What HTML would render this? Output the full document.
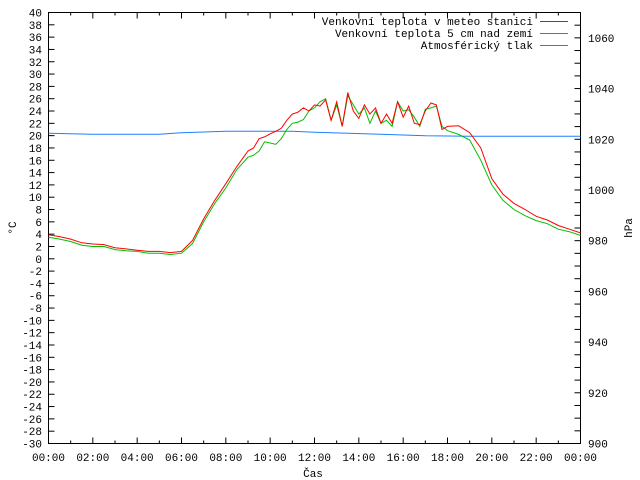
<!DOCTYPE html>
<html><head><meta charset="utf-8"><style>
html,body{margin:0;padding:0;background:#fff}
svg{display:block;font-family:"Liberation Mono",monospace;font-size:11px}
</style></head><body>
<svg id="chart" width="640" height="480" viewBox="0 0 640 480" xmlns="http://www.w3.org/2000/svg">
<rect width="640" height="480" fill="#fff"/>
<g id="axes"></g>
<g id="series"></g>
<text x="0" y="0" transform="translate(16,228) rotate(-90)" text-anchor="middle">°C</text>
<text x="0" y="0" transform="translate(632,228) rotate(-90)" text-anchor="middle">hPa</text>
<text x="313" y="477" text-anchor="middle">Čas</text>
<g>
<text x="533" y="25" text-anchor="end">Venkovní teplota v meteo stanici</text>
<line x1="540" y1="21.5" x2="568" y2="21.5" stroke="#ff0000"/>
<text x="533" y="37" text-anchor="end">Venkovní teplota 5 cm nad zemí</text>
<line x1="540" y1="33.5" x2="568" y2="33.5" stroke="#00c000"/>
<text x="533" y="49" text-anchor="end">Atmosférický tlak</text>
<line x1="540" y1="45.5" x2="568" y2="45.5" stroke="#1a80ff"/>
</g>
</svg>
<script>
const tempTimes = [0,0.5,1,1.5,2,2.5,3,3.5,4,4.5,5,5.5,6,6.5,7,7.5,8,8.5,9,9.25,9.5,9.75,10,10.25,10.5,10.75,11,11.25,11.5,11.75,12,12.25,12.5,12.75,13,13.25,13.5,13.75,14,14.25,14.5,14.75,15,15.25,15.5,15.75,16,16.25,16.5,16.75,17,17.25,17.5,17.75,18,18.5,19,19.5,20,20.5,21,21.5,22,22.5,23,23.5,24];
const airTemp = [3.9,3.6,3.2,2.6,2.4,2.3,1.8,1.6,1.4,1.2,1.2,1.0,1.2,3.0,6.5,9.5,12.2,15,17.5,18,19.5,19.8,20.3,20.7,21.2,22.5,23.5,23.8,24.5,24,25,24.8,25.8,22.5,25.5,21.5,27,24,22.8,25,23.5,24.5,22,23.5,22,25.5,23,24.8,22,21.8,24,25.3,25,21,21.5,21.6,20.5,18,13,10.5,9,8,6.9,6.3,5.4,4.8,4.2];
const groundTemp = [3.5,3.2,2.8,2.2,2.0,2.0,1.5,1.3,1.2,0.9,0.9,0.7,0.9,2.5,6.0,9.0,11.5,14.5,16.5,16.8,17.5,19,18.8,18.6,19.5,21,22,22.2,22.6,24,24.5,25.5,26,22.5,25,21.5,26.5,25,23.5,24.5,22,24,22,22.5,21.5,25.5,24,24.2,23,21.5,24.3,24.5,24.8,21.5,20.8,20.2,19.3,16,12,9.5,8,7,6.2,5.7,4.8,4.4,3.8];
const pressTimes = [0,2,5,6,8,11,12,15,17,19,24];
const pressure = [1022.4,1022.0,1022.0,1022.6,1023.2,1023.2,1022.8,1022.0,1021.4,1021.2,1021.2];
const xTickLabels = ["00:00","02:00","04:00","06:00","08:00","10:00","12:00","14:00","16:00","18:00","20:00","22:00","00:00"];

const L=48.5,R=580.5,T=12.5,B=443.5;
const yMin=-30,yMax=40,y2Min=900,y2Max=1070;
const xs=h=>L+(R-L)*h/24;
const ys=v=>B-(B-T)*(v-yMin)/(yMax-yMin);
const y2s=v=>B-(B-T)*(v-y2Min)/(y2Max-y2Min);
const NS="http://www.w3.org/2000/svg";
const axes=document.getElementById('axes');
const series=document.getElementById('series');
function mk(tag,attrs,parent){const e=document.createElementNS(NS,tag);for(const k in attrs)e.setAttribute(k,attrs[k]);parent.appendChild(e);return e;}

const frame=mk('rect',{x:L,y:T,width:R-L,height:B-T,fill:'none',stroke:'#000'},axes);



for(let v=yMin;v<=yMax;v+=2){
  const y=ys(v);
  const t=mk('line',{x1:L,y1:y,x2:L+6,y2:y,stroke:'#000'},axes);
  
  
  const tx=mk('text',{x:42,y:y+4,'text-anchor':'end'},axes);
  
  
  tx.textContent=v;
}
for(let v=y2Min;v<=y2Max;v+=5){
  const y=y2s(v);
  const t=mk('line',{x1:R-6,y1:y,x2:R,y2:y,stroke:'#000'},axes);
  
  
  if(v%20===0){
    const tx=mk('text',{x:588,y:y+4,'text-anchor':'start'},axes);
    
    
    tx.textContent=v;
  }
}
for(let h=0;h<=24;h++){
  const x=xs(h);
  const big=h%2===0;
  const t1=mk('line',{x1:x,y1:B,x2:x,y2:B-(big?6:3),stroke:'#000'},axes);
  
  
  const t2=mk('line',{x1:x,y1:T,x2:x,y2:T+(big?6:3),stroke:'#000'},axes);
  
  
}
xTickLabels.forEach((lab,i)=>{
  const tx=mk('text',{x:xs(i*2),y:461,'text-anchor':'middle'},axes);
  
  
  tx.textContent=lab;
});

function line(times,vals,scale,color,name){
  const pts=times.map((t,i)=>xs(t).toFixed(1)+','+scale(vals[i]).toFixed(1)).join(' ');
  const p=mk('polyline',{points:pts,fill:'none',stroke:color,'stroke-width':1},series);
  
  
}
line(pressTimes,pressure,y2s,'#1a80ff','pressure-line');
line(tempTimes,groundTemp,ys,'#00c000','ground-temp-line');
line(tempTimes,airTemp,ys,'#ff0000','air-temp-line');
</script>
</body></html>
